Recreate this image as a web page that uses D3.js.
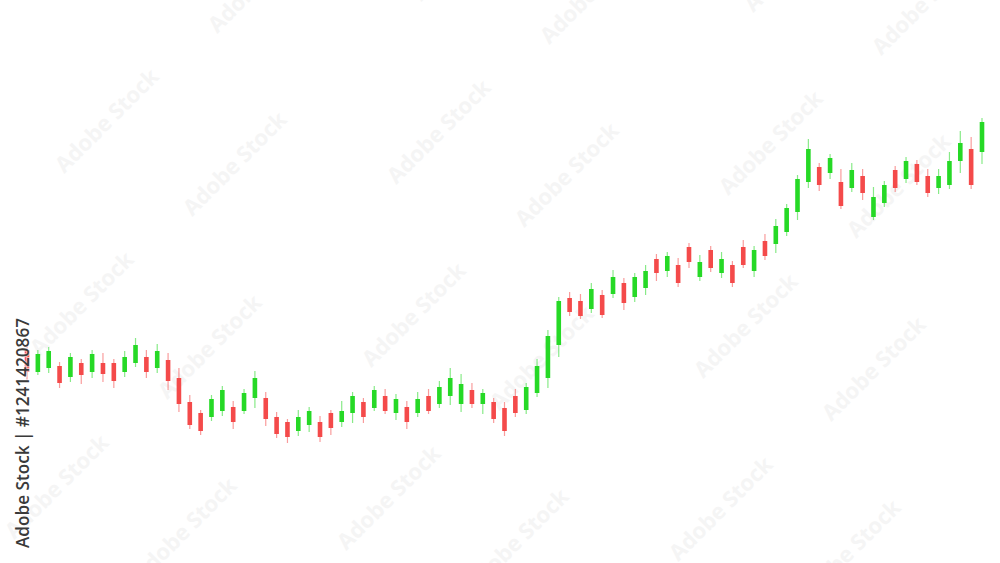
<!DOCTYPE html>
<html>
<head>
<meta charset="utf-8">
<script src="https://cdn.jsdelivr.net/npm/d3@7"></script>
<style>
  html, body { margin: 0; padding: 0; background: #ffffff; }
  svg { display: block; }
</style>
</head>
<body>
<svg id="chart" width="1000" height="563"></svg>
<script>
// ---- DATA ----
const opens  = [150,128,132,134,123,137,128,137,137,128,137,143,132,140,122,98,87,83,89,93,89,102,102,83,78,69,75,78,87,78,87,98,92,104,87,93,87,104,96,104,96,110,96,98,92,104,90,107,122,155,202,199,191,205,206,217,203,212,241,229,235,253,223,250,227,235,253,229,259,256,268,288,318,333,327,318,312,324,283,297,330,321,336,324,312,315,339,351,348];
const highs  = [155,150,153,138,147,141,150,147,141,149,162,150,156,147,132,105,90,105,114,99,111,129,108,88,81,90,93,84,90,99,108,102,114,111,106,99,108,111,119,132,126,117,111,102,98,111,117,141,170,203,208,206,217,210,230,222,227,235,246,248,242,257,245,254,248,239,260,254,266,281,296,325,361,337,346,331,337,331,313,319,334,343,340,331,331,348,369,363,382];
const lows   = [120,125,127,112,118,116,122,118,112,123,133,122,127,110,88,71,65,79,84,71,86,92,74,62,57,64,68,58,65,73,77,77,89,86,80,71,83,86,92,95,88,92,86,77,64,83,86,103,112,143,184,181,187,182,202,190,198,205,219,223,213,232,219,228,222,213,232,223,240,247,264,280,312,309,321,291,308,300,280,293,308,317,315,303,306,311,327,311,336];
const closes = [128,146,149,117,143,125,146,126,119,143,155,128,149,119,96,75,69,101,110,78,107,122,81,66,63,83,89,63,72,89,104,83,110,89,101,78,101,89,113,122,116,96,107,81,69,87,113,134,164,199,188,184,211,185,223,197,223,229,227,244,217,238,238,232,241,217,235,250,244,274,292,321,351,315,342,294,330,307,303,315,312,339,318,307,324,339,357,315,378];
const sessions = opens.map((d, i) => i + 1);   // category: session number
const creditText = "Adobe Stock | #1241420867";
const watermarkText = "Adobe Stock";

// ---- STYLE ----
const UP = "#26d926", DOWN = "#f44a4a";

const svg = d3.select("#chart");
const W = 1000, H = 563;

// watermark layer
const wm = svg.append("g").attr("class", "watermarks");
const wmPts = [];
for (let j = -1; j <= 3; j++) {
  for (let i = -1; i <= 3; i++) {
    const bx = 108 + 332 * i - 25 * j;
    const by = 122 + 11 * i + 183 * j;
    wmPts.push([bx, by]);
    wmPts.push([bx + 128, by + 43]);
  }
}
wm.selectAll("text").data(wmPts).join("text")
  .attr("transform", d => `translate(${d[0]},${d[1]}) rotate(-45)`)
  .attr("text-anchor", "middle")
  .attr("dominant-baseline", "middle")
  .attr("font-family", "Open Sans, DejaVu Sans, sans-serif")
  .attr("font-weight", "bold")
  .attr("font-size", 22)
  .attr("fill", "#f5f5f5")
  .text(watermarkText);

// scales
const x = d3.scaleLinear().domain([1, sessions.length]).range([27, 982]);
const y = d3.scaleLinear().domain([50, 390]).range([450, 110]);
const bodyW = 4.6;

const data = sessions.map((s, i) => ({ s, o: opens[i], h: highs[i], l: lows[i], c: closes[i] }));

const g = svg.append("g").attr("class", "candles");
const cg = g.selectAll("g.candle").data(data).join("g").attr("class", "candle");

cg.append("line")
  .attr("x1", d => x(d.s)).attr("x2", d => x(d.s))
  .attr("y1", d => y(d.h)).attr("y2", d => y(d.l))
  .attr("stroke", d => d.c >= d.o ? UP : DOWN)
  .attr("stroke-opacity", 0.55)
  .attr("stroke-width", 1.2);

cg.append("rect")
  .attr("x", d => x(d.s) - bodyW / 2)
  .attr("width", bodyW)
  .attr("y", d => y(Math.max(d.o, d.c)))
  .attr("height", d => Math.max(1, Math.abs(y(d.o) - y(d.c))))
  .attr("fill", d => d.c >= d.o ? UP : DOWN);

// vertical credit text
svg.append("text")
  .attr("transform", "translate(29,548) rotate(-90)")
  .attr("font-family", "Open Sans, DejaVu Sans, sans-serif")
  .attr("font-size", 18)
  .attr("font-weight", 600)
  .attr("fill", "#3a3a3a")
  .attr("stroke", "#ffffff")
  .attr("stroke-width", 2)
  .attr("stroke-opacity", 0.6)
  .attr("paint-order", "stroke")
  .attr("textLength", 230)
  .attr("lengthAdjust", "spacingAndGlyphs")
  .text(creditText);
</script>
</body>
</html>
